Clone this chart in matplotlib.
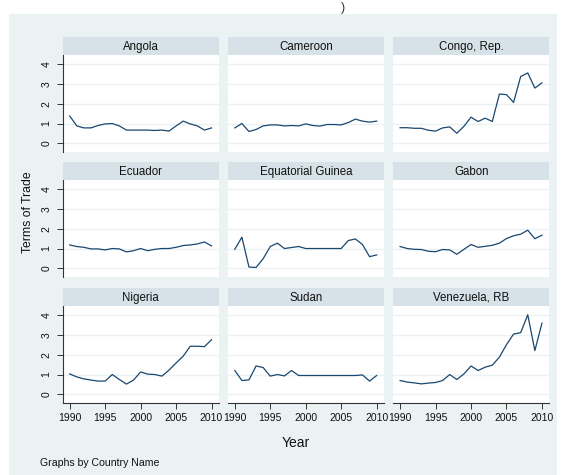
import matplotlib
matplotlib.use("Agg")
import matplotlib.pyplot as plt

# Terms of trade, 1990-2010, by country
years = list(range(1990, 2011))
countries = ["Angola", "Cameroon", "Congo, Rep.",
             "Ecuador", "Equatorial Guinea", "Gabon",
             "Nigeria", "Sudan", "Venezuela, RB"]

angola = [1.38, 0.88, 0.78, 0.78, 0.90, 0.98, 1.00, 0.88, 0.67, 0.67, 0.67,
          0.67, 0.65, 0.67, 0.62, 0.88, 1.12, 0.98, 0.88, 0.67, 0.78]
cameroon = [0.78, 1.00, 0.60, 0.70, 0.88, 0.93, 0.93, 0.88, 0.90, 0.88, 0.98,
            0.90, 0.87, 0.95, 0.95, 0.93, 1.05, 1.22, 1.12, 1.07, 1.12]
congo = [0.79, 0.79, 0.76, 0.76, 0.66, 0.62, 0.78, 0.83, 0.51, 0.86, 1.32,
         1.10, 1.27, 1.10, 2.48, 2.45, 2.06, 3.36, 3.54, 2.78, 3.04]
ecuador = [1.18, 1.10, 1.06, 0.98, 0.98, 0.93, 1.00, 0.98, 0.83, 0.89, 1.00,
           0.89, 0.96, 1.00, 1.00, 1.06, 1.15, 1.18, 1.23, 1.33, 1.13]
eq_guinea = [0.96, 1.57, 0.07, 0.05, 0.49, 1.10, 1.27, 1.00, 1.05, 1.10, 1.00,
             1.00, 1.00, 1.00, 1.00, 1.00, 1.40, 1.48, 1.20, 0.59, 0.68]
gabon = [1.10, 1.00, 0.96, 0.95, 0.86, 0.84, 0.95, 0.93, 0.71, 0.96, 1.20,
         1.06, 1.11, 1.16, 1.27, 1.50, 1.64, 1.72, 1.92, 1.49, 1.67]
nigeria = [1.03, 0.88, 0.78, 0.72, 0.67, 0.67, 1.00, 0.75, 0.52, 0.72, 1.13,
           1.02, 1.00, 0.92, 1.22, 1.58, 1.92, 2.42, 2.42, 2.40, 2.75]
sudan = [1.20, 0.70, 0.73, 1.43, 1.35, 0.92, 1.00, 0.93, 1.20, 0.95, 0.95,
         0.95, 0.95, 0.95, 0.95, 0.95, 0.95, 0.95, 0.98, 0.67, 0.95]
venezuela = [0.70, 0.62, 0.58, 0.53, 0.57, 0.60, 0.70, 1.00, 0.75, 1.03, 1.43,
             1.20, 1.37, 1.47, 1.87, 2.50, 3.03, 3.10, 4.00, 2.20, 3.58]

series = [angola, cameroon, congo, ecuador, eq_guinea, gabon,
          nigeria, sudan, venezuela]

x_ticks = [1990, 1995, 2000, 2005, 2010]
y_ticks = [0, 1, 2, 3, 4]

plt.rcParams["font.family"] = ["Liberation Sans", "DejaVu Sans"]

W, H = 562, 475
fig = plt.figure(figsize=(W / 100, H / 100), dpi=100)
fig.patch.set_facecolor("white")

bg = "#EAF2F3"
strip = "#D6E2E8"
navy = "#1A476F"


def box(x0, y0, w, h):
    # pixel box (top-left origin) -> figure fraction rect
    return [x0 / W, 1 - (y0 + h) / H, w / W, h / H]


# graph region background, drawn underneath everything
back = fig.add_axes(box(9, 14, 548, H - 14), zorder=-5)
back.set_facecolor(bg)
back.set_xticks([])
back.set_yticks([])
for s in back.spines.values():
    s.set_visible(False)

col_x = [62.6, 227.7, 393.0]
panel_w = 156.4
strip_top = [37.0, 162.0, 288.0]
strip_h = 18.0
panel_h = 97.0

for i, (name, vals) in enumerate(zip(countries, series)):
    r, c = divmod(i, 3)
    x0, y0 = col_x[c], strip_top[r]

    hd = fig.add_axes(box(x0, y0, panel_w, strip_h))
    hd.set_facecolor(strip)
    hd.set_xticks([])
    hd.set_yticks([])
    for s in hd.spines.values():
        s.set_visible(False)
    hd.text(0.5, 0.45, name, ha="center", va="center", fontsize=8.3,
            color="#111111", transform=hd.transAxes)

    ax = fig.add_axes(box(x0, y0 + strip_h, panel_w, panel_h))
    ax.set_facecolor("white")
    ax.plot(years, vals, color=navy, lw=0.9, zorder=3)
    ax.set_xlim(1989.0, 2011.05)
    ax.set_ylim(-0.43, 4.44)
    ax.set_xticks(x_ticks)
    ax.set_yticks(y_ticks)
    ax.grid(axis="y", color=bg, lw=1.0, zorder=1)
    for s in ax.spines.values():
        s.set_visible(False)
    ax.tick_params(length=0, labelleft=False, labelbottom=False,
                   colors="#333333", labelsize=7.5)

    if c == 0:
        ax.spines["left"].set_visible(True)
        ax.spines["left"].set_color("#333333")
        ax.spines["left"].set_linewidth(0.8)
        ax.tick_params(axis="y", length=4, width=0.7, labelleft=True,
                       labelcolor="#111111", pad=4)
        for lab in ax.get_yticklabels():
            lab.set_rotation(90)
            lab.set_va("center")
    if r == 2:
        ax.spines["bottom"].set_visible(True)
        ax.spines["bottom"].set_color("#333333")
        ax.spines["bottom"].set_linewidth(0.8)
        ax.tick_params(axis="x", length=4, width=0.7, labelbottom=True,
                       labelcolor="#111111", pad=3)

fig.text(28 / W, 1 - 212 / H, "Terms of Trade", rotation=90, ha="center",
         va="center", fontsize=8.8, color="#111111")
fig.text(296 / W, 1 - 443 / H, "Year", ha="center", va="center",
         fontsize=10, color="#111111")
fig.text(39.6 / W, 1 - 463 / H, "Graphs by Country Name", ha="left",
         va="center", fontsize=7.6, color="#111111")
fig.text(343 / W, 1 - 2 / H, ")", ha="center", va="top", fontsize=9,
         color="#333333")

fig.savefig("out.png", dpi=100, facecolor="white")
